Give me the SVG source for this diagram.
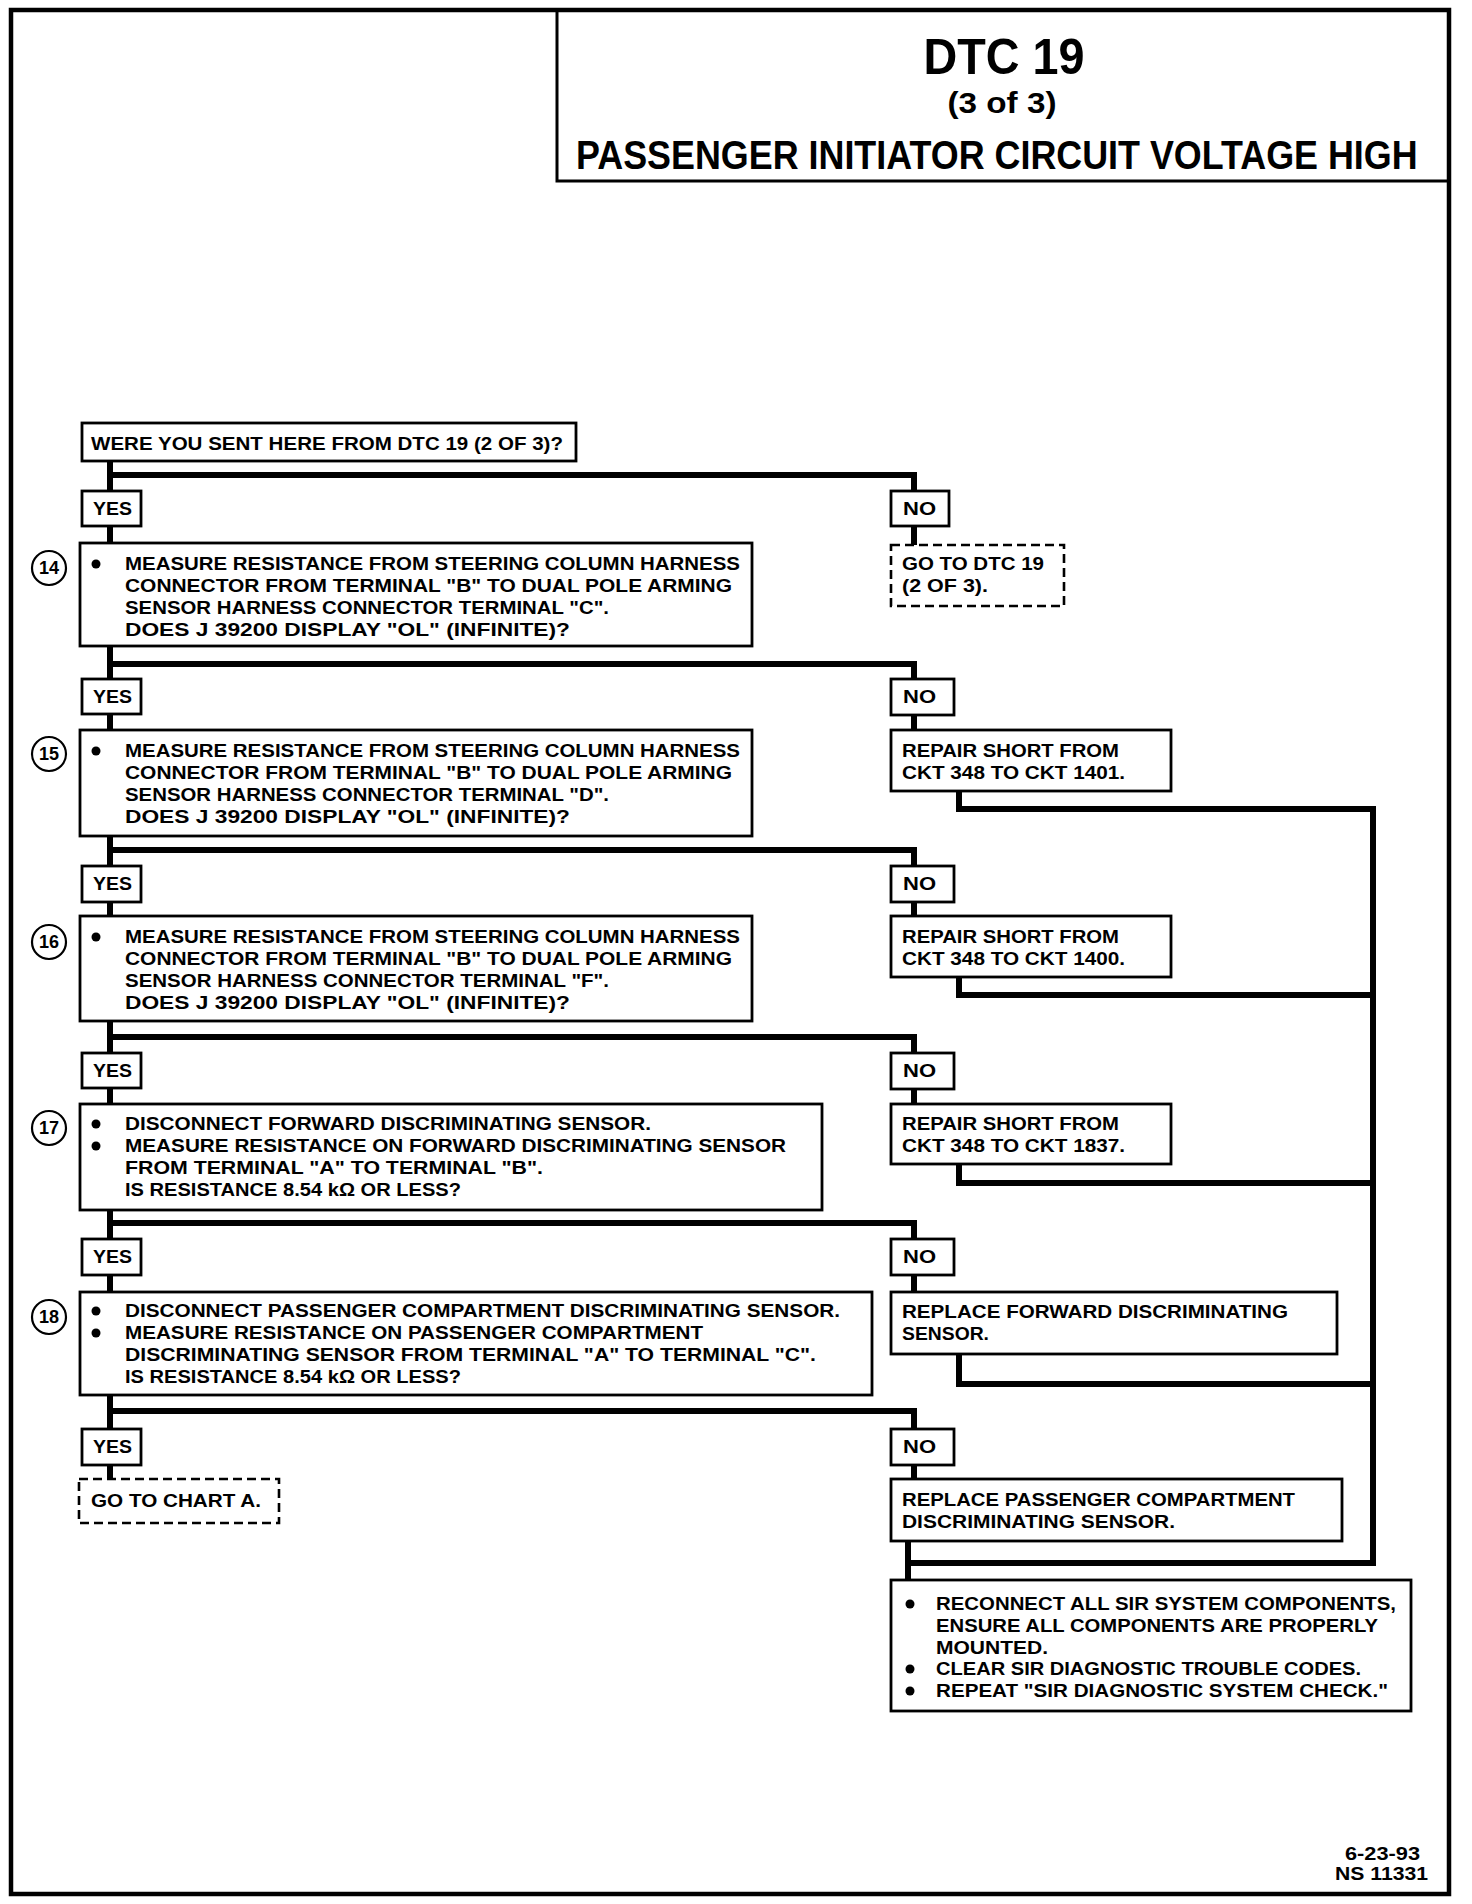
<svg xmlns="http://www.w3.org/2000/svg" width="1472" height="1904" viewBox="0 0 1472 1904">
<style>
.t{font-family:"Liberation Sans",Arial,sans-serif;font-weight:bold;font-size:18px;fill:#000}
.b{fill:#fff;stroke:#000;stroke-width:2.8}
.d{fill:#fff;stroke:#000;stroke-width:2.6;stroke-dasharray:9 5}
.c{fill:none;stroke:#000;stroke-width:6;stroke-linecap:square}
.n{fill:#fff;stroke:#000;stroke-width:2.2}
.nt{font-family:"Liberation Sans",Arial,sans-serif;font-weight:bold;font-size:18px;text-anchor:middle}
</style>
<rect width="1472" height="1904" fill="#fff"/>
<g id="frame" fill="none" stroke="#000">
<rect x="11" y="10" width="1438" height="1884" stroke-width="4.5"/>
<polyline points="557,10 557,181 1449,181" stroke-width="3"/>
</g>
<g id="title">
<text class="t" x="1004" y="74" text-anchor="middle" style="font-size:50px" textLength="161" lengthAdjust="spacingAndGlyphs">DTC 19</text>
<text class="t" x="1002" y="113" text-anchor="middle" style="font-size:29px" textLength="109" lengthAdjust="spacingAndGlyphs">(3 of 3)</text>
<text class="t" transform="translate(576 169) scale(0.897 1)" x="0" y="0" style="font-size:40px">PASSENGER INITIATOR CIRCUIT VOLTAGE HIGH</text>
</g>
<g id="connectors">
<line class="c" x1="110" y1="461" x2="110" y2="1479"/>
<polyline class="c" points="110,475 914,475 914,545"/>
<polyline class="c" points="110,664 914,664 914,730"/>
<polyline class="c" points="110,850 914,850 914,916"/>
<polyline class="c" points="110,1037 914,1037 914,1104"/>
<polyline class="c" points="110,1223 914,1223 914,1292"/>
<polyline class="c" points="110,1411 914,1411 914,1479"/>
<polyline class="c" points="959,791 959,809 1373,809 1373,1563 908,1563"/>
<polyline class="c" points="959,977 959,995 1373,995"/>
<polyline class="c" points="959,1164 959,1183 1373,1183"/>
<polyline class="c" points="959,1354 959,1384 1373,1384"/>
<line class="c" x1="908" y1="1541" x2="908" y2="1580"/>
</g>
<g id="q0">
<rect class="b" x="82" y="423" width="494" height="38"/>
<text class="t" x="91" y="450" textLength="472" lengthAdjust="spacingAndGlyphs">WERE YOU SENT HERE FROM DTC 19 (2 OF 3)?</text>
</g>
<g id="yes0"><rect class="b" x="82" y="491" width="59" height="35"/><text class="t" x="93" y="515" textLength="39" lengthAdjust="spacingAndGlyphs">YES</text></g>
<g id="no0"><rect class="b" x="891" y="491" width="58" height="35"/><text class="t" x="903" y="515" textLength="33" lengthAdjust="spacingAndGlyphs">NO</text></g>
<g id="goto2of3">
<rect class="d" x="891" y="545" width="173" height="61"/>
<text class="t" x="902" y="570" textLength="142" lengthAdjust="spacingAndGlyphs">GO TO DTC 19</text>
<text class="t" x="902" y="592" textLength="86" lengthAdjust="spacingAndGlyphs">(2 OF 3).</text>
</g>
<g id="step14">
<circle class="n" cx="49" cy="568" r="17"/><text class="nt" x="49" y="574">14</text>
<rect class="b" x="80" y="543" width="672" height="103"/>
<circle cx="96" cy="564" r="4.5"/>
<text class="t" x="125" y="570" textLength="615" lengthAdjust="spacingAndGlyphs">MEASURE RESISTANCE FROM STEERING COLUMN HARNESS</text>
<text class="t" x="125" y="592" textLength="607" lengthAdjust="spacingAndGlyphs">CONNECTOR FROM TERMINAL "B" TO DUAL POLE ARMING</text>
<text class="t" x="125" y="614" textLength="484" lengthAdjust="spacingAndGlyphs">SENSOR HARNESS CONNECTOR TERMINAL "C".</text>
<text class="t" x="125" y="636" textLength="445" lengthAdjust="spacingAndGlyphs">DOES J 39200 DISPLAY "OL" (INFINITE)?</text>
</g>
<g id="yes1"><rect class="b" x="82" y="679" width="59" height="35"/><text class="t" x="93" y="703" textLength="39" lengthAdjust="spacingAndGlyphs">YES</text></g>
<g id="no1"><rect class="b" x="891" y="679" width="63" height="36"/><text class="t" x="903" y="703" textLength="33" lengthAdjust="spacingAndGlyphs">NO</text></g>
<g id="repair1401">
<rect class="b" x="891" y="730" width="280" height="61"/>
<text class="t" x="902" y="757" textLength="217" lengthAdjust="spacingAndGlyphs">REPAIR SHORT FROM</text>
<text class="t" x="902" y="779" textLength="223" lengthAdjust="spacingAndGlyphs">CKT 348 TO CKT 1401.</text>
</g>
<g id="step15">
<circle class="n" cx="49" cy="754" r="17"/><text class="nt" x="49" y="760">15</text>
<rect class="b" x="80" y="730" width="672" height="106"/>
<circle cx="96" cy="751" r="4.5"/>
<text class="t" x="125" y="757" textLength="615" lengthAdjust="spacingAndGlyphs">MEASURE RESISTANCE FROM STEERING COLUMN HARNESS</text>
<text class="t" x="125" y="779" textLength="607" lengthAdjust="spacingAndGlyphs">CONNECTOR FROM TERMINAL "B" TO DUAL POLE ARMING</text>
<text class="t" x="125" y="801" textLength="484" lengthAdjust="spacingAndGlyphs">SENSOR HARNESS CONNECTOR TERMINAL "D".</text>
<text class="t" x="125" y="823" textLength="445" lengthAdjust="spacingAndGlyphs">DOES J 39200 DISPLAY "OL" (INFINITE)?</text>
</g>
<g id="yes2"><rect class="b" x="82" y="866" width="59" height="36"/><text class="t" x="93" y="890" textLength="39" lengthAdjust="spacingAndGlyphs">YES</text></g>
<g id="no2"><rect class="b" x="891" y="866" width="63" height="36"/><text class="t" x="903" y="890" textLength="33" lengthAdjust="spacingAndGlyphs">NO</text></g>
<g id="repair1400">
<rect class="b" x="891" y="916" width="280" height="61"/>
<text class="t" x="902" y="943" textLength="217" lengthAdjust="spacingAndGlyphs">REPAIR SHORT FROM</text>
<text class="t" x="902" y="965" textLength="223" lengthAdjust="spacingAndGlyphs">CKT 348 TO CKT 1400.</text>
</g>
<g id="step16">
<circle class="n" cx="49" cy="942" r="17"/><text class="nt" x="49" y="948">16</text>
<rect class="b" x="80" y="916" width="672" height="105"/>
<circle cx="96" cy="937" r="4.5"/>
<text class="t" x="125" y="943" textLength="615" lengthAdjust="spacingAndGlyphs">MEASURE RESISTANCE FROM STEERING COLUMN HARNESS</text>
<text class="t" x="125" y="965" textLength="607" lengthAdjust="spacingAndGlyphs">CONNECTOR FROM TERMINAL "B" TO DUAL POLE ARMING</text>
<text class="t" x="125" y="987" textLength="484" lengthAdjust="spacingAndGlyphs">SENSOR HARNESS CONNECTOR TERMINAL "F".</text>
<text class="t" x="125" y="1009" textLength="445" lengthAdjust="spacingAndGlyphs">DOES J 39200 DISPLAY "OL" (INFINITE)?</text>
</g>
<g id="yes3"><rect class="b" x="82" y="1053" width="59" height="35"/><text class="t" x="93" y="1077" textLength="39" lengthAdjust="spacingAndGlyphs">YES</text></g>
<g id="no3"><rect class="b" x="891" y="1053" width="63" height="36"/><text class="t" x="903" y="1077" textLength="33" lengthAdjust="spacingAndGlyphs">NO</text></g>
<g id="repair1837">
<rect class="b" x="891" y="1104" width="280" height="60"/>
<text class="t" x="902" y="1130" textLength="217" lengthAdjust="spacingAndGlyphs">REPAIR SHORT FROM</text>
<text class="t" x="902" y="1152" textLength="223" lengthAdjust="spacingAndGlyphs">CKT 348 TO CKT 1837.</text>
</g>
<g id="step17">
<circle class="n" cx="49" cy="1128" r="17"/><text class="nt" x="49" y="1134">17</text>
<rect class="b" x="80" y="1104" width="742" height="106"/>
<circle cx="96" cy="1124" r="4.5"/>
<circle cx="96" cy="1146" r="4.5"/>
<text class="t" x="125" y="1130" textLength="526" lengthAdjust="spacingAndGlyphs">DISCONNECT FORWARD DISCRIMINATING SENSOR.</text>
<text class="t" x="125" y="1152" textLength="661" lengthAdjust="spacingAndGlyphs">MEASURE RESISTANCE ON FORWARD DISCRIMINATING SENSOR</text>
<text class="t" x="125" y="1174" textLength="418" lengthAdjust="spacingAndGlyphs">FROM TERMINAL "A" TO TERMINAL "B".</text>
<text class="t" x="125" y="1196" textLength="336" lengthAdjust="spacingAndGlyphs">IS RESISTANCE 8.54 kΩ OR LESS?</text>
</g>
<g id="yes4"><rect class="b" x="82" y="1239" width="59" height="36"/><text class="t" x="93" y="1263" textLength="39" lengthAdjust="spacingAndGlyphs">YES</text></g>
<g id="no4"><rect class="b" x="891" y="1239" width="63" height="36"/><text class="t" x="903" y="1263" textLength="33" lengthAdjust="spacingAndGlyphs">NO</text></g>
<g id="replaceForward">
<rect class="b" x="891" y="1292" width="446" height="62"/>
<text class="t" x="902" y="1318" textLength="386" lengthAdjust="spacingAndGlyphs">REPLACE FORWARD DISCRIMINATING</text>
<text class="t" x="902" y="1340" textLength="87" lengthAdjust="spacingAndGlyphs">SENSOR.</text>
</g>
<g id="step18">
<circle class="n" cx="49" cy="1317" r="17"/><text class="nt" x="49" y="1323">18</text>
<rect class="b" x="80" y="1292" width="792" height="103"/>
<circle cx="96" cy="1311" r="4.5"/>
<circle cx="96" cy="1333" r="4.5"/>
<text class="t" x="125" y="1317" textLength="715" lengthAdjust="spacingAndGlyphs">DISCONNECT PASSENGER COMPARTMENT DISCRIMINATING SENSOR.</text>
<text class="t" x="125" y="1339" textLength="578" lengthAdjust="spacingAndGlyphs">MEASURE RESISTANCE ON PASSENGER COMPARTMENT</text>
<text class="t" x="125" y="1361" textLength="691" lengthAdjust="spacingAndGlyphs">DISCRIMINATING SENSOR FROM TERMINAL "A" TO TERMINAL "C".</text>
<text class="t" x="125" y="1383" textLength="336" lengthAdjust="spacingAndGlyphs">IS RESISTANCE 8.54 kΩ OR LESS?</text>
</g>
<g id="yes5"><rect class="b" x="82" y="1429" width="59" height="36"/><text class="t" x="93" y="1453" textLength="39" lengthAdjust="spacingAndGlyphs">YES</text></g>
<g id="no5"><rect class="b" x="891" y="1429" width="63" height="36"/><text class="t" x="903" y="1453" textLength="33" lengthAdjust="spacingAndGlyphs">NO</text></g>
<g id="gotoChartA">
<rect class="d" x="79" y="1479" width="200" height="44"/>
<text class="t" x="91" y="1507" textLength="170" lengthAdjust="spacingAndGlyphs">GO TO CHART A.</text>
</g>
<g id="replacePassenger">
<rect class="b" x="891" y="1479" width="451" height="62"/>
<text class="t" x="902" y="1506" textLength="393" lengthAdjust="spacingAndGlyphs">REPLACE PASSENGER COMPARTMENT</text>
<text class="t" x="902" y="1528" textLength="273" lengthAdjust="spacingAndGlyphs">DISCRIMINATING SENSOR.</text>
</g>
<g id="final">
<rect class="b" x="891" y="1580" width="520" height="131"/>
<circle cx="910" cy="1604" r="4.5"/>
<circle cx="910" cy="1669" r="4.5"/>
<circle cx="910" cy="1691" r="4.5"/>
<text class="t" x="936" y="1610" textLength="460" lengthAdjust="spacingAndGlyphs">RECONNECT ALL SIR SYSTEM COMPONENTS,</text>
<text class="t" x="936" y="1632" textLength="442" lengthAdjust="spacingAndGlyphs">ENSURE ALL COMPONENTS ARE PROPERLY</text>
<text class="t" x="936" y="1654" textLength="112" lengthAdjust="spacingAndGlyphs">MOUNTED.</text>
<text class="t" x="936" y="1675" textLength="425" lengthAdjust="spacingAndGlyphs">CLEAR SIR DIAGNOSTIC TROUBLE CODES.</text>
<text class="t" x="936" y="1697" textLength="452" lengthAdjust="spacingAndGlyphs">REPEAT "SIR DIAGNOSTIC SYSTEM CHECK."</text>
</g>
<g id="footer">
<text class="t" x="1345" y="1860" textLength="75" lengthAdjust="spacingAndGlyphs">6-23-93</text>
<text class="t" x="1335" y="1880" textLength="93" lengthAdjust="spacingAndGlyphs">NS 11331</text>
</g>
</svg>
